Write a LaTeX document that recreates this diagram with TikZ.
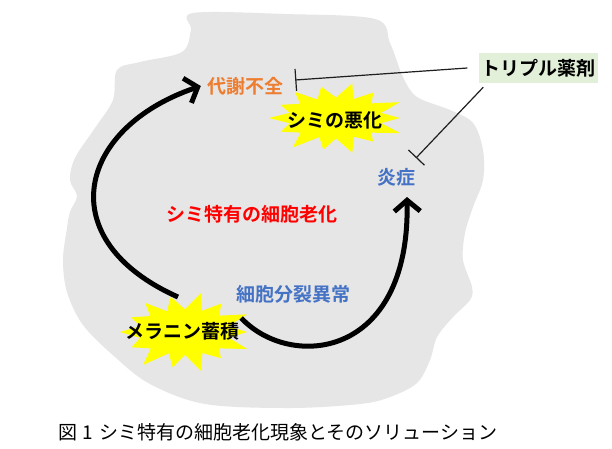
\documentclass[tikz,border=0pt]{standalone}
\usepackage{fontspec}
\setmainfont{Noto Sans CJK JP}[BoldFont={Noto Sans CJK JP Bold}]
\usetikzlibrary{arrows.meta}
\definecolor{blobgray}{RGB}{231,230,230}
\definecolor{lblorange}{RGB}{237,125,49}
\definecolor{lblblue}{RGB}{68,114,196}
\definecolor{lblred}{RGB}{255,0,0}
\definecolor{boxgreen}{RGB}{226,239,217}
\definecolor{burstyellow}{RGB}{255,255,0}
\definecolor{inhgray}{RGB}{30,30,30}
\newcommand\drawburst[3]{%
  \begin{scope}[shift={(#1)}, x=#2pt, y=#3pt]
    \fill[burstyellow] (0:1.0) -- (12:0.72) -- (25:1.1) -- (38:0.7) -- (52:0.95) -- (64:0.62) -- (76:1.05) -- (90:0.6) -- (104:0.95) -- (118:0.62) -- (130:1.0) -- (143:0.7) -- (156:0.95) -- (168:0.74) -- (180:1.05) -- (192:0.74) -- (205:0.95) -- (218:0.7) -- (232:1.1) -- (245:0.62) -- (258:0.95) -- (270:0.6) -- (284:1.05) -- (297:0.62) -- (310:0.9) -- (322:0.7) -- (336:1.1) -- (348:0.72) -- cycle;
  \end{scope}}
\begin{document}
\begin{tikzpicture}[x=1pt,y=-1pt,
  lbl/.style={inner sep=0pt, font=\fontsize{19pt}{22pt}\selectfont\bfseries},
  flow/.style={line width=5pt, -{Straight Barb[length=11pt,width=26pt]}},
  inhibit/.style={line width=1.2pt, draw=inhgray, -{Bar[width=22pt]}},
]
\fill[white] (0,0) rectangle (612,448);
\useasboundingbox (0,0) rectangle (612,448);
% gray blob
\fill[blobgray] plot[smooth cycle, tension=0.55] coordinates {
 (193,13) (285,14) (375,19) (390,43) (403,77) (417,97) (450,110) (473,123)
 (483,150) (483,180) (473,207) (465,233) (463,260) (472,287) (470,300)
 (453,317) (437,337) (430,360) (417,383) (390,397) (360,404) (290,408)
 (205,404) (150,384) (115,357) (83,325) (67,292) (63,260) (67,228)
 (70,212) (77,196) (70,180) (75,158) (95,128) (113,100) (117,70)
 (140,62) (182,52) (191,30)};
% bursts
\coordinate (c1) at (336,118);
\coordinate (c2) at (185,332);
\drawburst{c1}{64}{34}
\drawburst{c2}{62}{38}
% labels
\node[lbl, text=lblorange] (taisha) at (245,86) {代謝不全};
\node[lbl] (akka) at (335,120) {シミの悪化};
\node[lbl, text=lblblue] (ensho) at (396,177) {炎症};
\node[lbl, text=lblred] (roka) at (252,214) {シミ特有の細胞老化};
\node[lbl, text=lblblue] (bunretsu) at (293,294) {細胞分裂異常};
\node[lbl] (mel) at (182,331) {メラニン蓄積};
\node[lbl, fill=boxgreen, minimum width=119pt, minimum height=30pt] (drug) at (538,68) {トリプル薬剤};
\node[font=\fontsize{19pt}{22pt}\selectfont] (cap) at (278,432) {図\hspace{5pt}1\hspace{6pt}シミ特有の細胞老化現象とそのソリューション};
% flow arrows
\draw[flow] ([shift={(-4pt,34pt)}]mel.center) .. controls (50,240) and (77,128) .. ([xshift=-6pt]taisha.west);
\draw[flow] ([shift={(2pt,13pt)}]mel.east) .. controls (290,370) and (410,360) .. ([shift={(11pt,-20pt)}]ensho.center);
% inhibition lines
\draw[inhibit] ([xshift=-11pt]drug.west) -- ([shift={(12pt,6pt)}]taisha.east);
\draw[inhibit] ([shift={(5pt,-4pt)}]drug.south west) -- ([shift={(20pt,19pt)}]ensho.center);
\end{tikzpicture}
\end{document}
